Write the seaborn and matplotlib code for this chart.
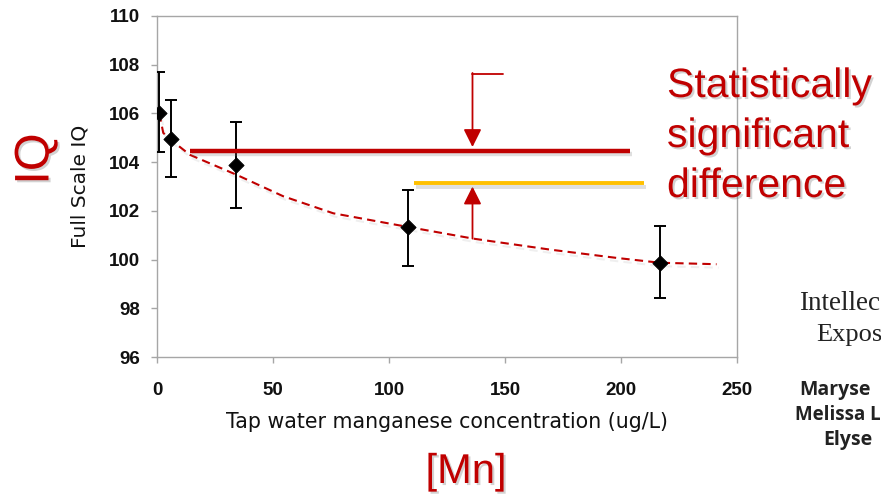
import matplotlib
matplotlib.use("Agg")
import matplotlib.pyplot as plt
import matplotlib.patheffects as pe
import seaborn as sns
import numpy as np
import pandas as pd

# Group means with error bars
mn_conc = [1, 6, 34, 108, 217]
iq_mean = [106.0, 104.95, 103.9, 101.32, 99.87]
err_low = [104.4, 103.4, 102.13, 99.75, 98.44]
err_high = [107.7, 106.55, 105.65, 102.87, 101.37]

# Dashed trend curve points
curve_x = [1.0, 2.7, 5.9, 14.2, 34.3, 54.4, 76.0, 104.7, 136.3, 169.4, 198.0, 216.8, 241.2]
curve_y = [106.0, 105.2, 104.92, 104.3, 103.48, 102.6, 101.9, 101.4, 100.86, 100.41, 100.07, 99.87, 99.81]

x_ticks = [0, 50, 100, 150, 200, 250]
y_ticks = [96, 98, 100, 102, 104, 106, 108, 110]

RED = "#C00000"
YELLOW = "#FFC000"
GRID = "#A6A6A6"

sns.set_theme(style="white")
plt.rcParams["font.family"] = ["Liberation Sans", "DejaVu Sans"]

fig = plt.figure(figsize=(8.81, 4.98), dpi=100)
ax = fig.add_axes([0.1782, 0.2831, 0.8365 - 0.1782, 0.9679 - 0.2831])

shadow_line = [pe.SimpleLineShadow(offset=(1.5, -2.5), shadow_color="gray", alpha=0.25), pe.Normal()]
shadow_soft = [pe.SimpleLineShadow(offset=(1.5, -2.5), shadow_color="gray", alpha=0.12), pe.Normal()]
shadow_text = [pe.withSimplePatchShadow(offset=(1.5, -1.5), shadow_rgbFace="gray", alpha=0.35)]

df_curve = pd.DataFrame({"x": curve_x, "y": curve_y})
sns.lineplot(data=df_curve, x="x", y="y", ax=ax, color=RED, lw=1.5,
             linestyle=(0, (4, 2.5)), path_effects=shadow_soft, zorder=2)

df = pd.DataFrame({"mn": mn_conc, "iq": iq_mean, "lo": err_low, "hi": err_high})
yerr = np.array([df["iq"] - df["lo"], df["hi"] - df["iq"]])
ax.errorbar(df["mn"], df["iq"], yerr=yerr, fmt="none", ecolor="black",
            elinewidth=1.4, capsize=4, capthick=1.4, zorder=3)
sns.scatterplot(data=df, x="mn", y="iq", ax=ax, marker="D", s=60,
                color="black", edgecolor="black", zorder=4)

# significance annotation
ax.plot([14.2, 204], [104.47, 104.47], color=RED, lw=3.2,
        solid_capstyle="butt", path_effects=shadow_line, zorder=5)
ax.plot([110.8, 210], [103.13, 103.13], color=YELLOW, lw=2.8,
        solid_capstyle="butt", path_effects=shadow_line, zorder=5)
ax.plot([136, 149], [107.62, 107.62], color=RED, lw=1.3, zorder=5)
ax.annotate("", xy=(136, 104.62), xytext=(136, 107.66),
            arrowprops=dict(arrowstyle="-|>,head_length=0.9,head_width=0.45",
                            color=RED, lw=1.3, shrinkA=0, shrinkB=0))
ax.annotate("", xy=(136, 103.0), xytext=(136, 100.86),
            arrowprops=dict(arrowstyle="-|>,head_length=0.9,head_width=0.45",
                            color=RED, lw=1.3, shrinkA=0, shrinkB=0))

ax.set_xlim(0, 250)
ax.set_ylim(96, 110)
ax.set_xticks(x_ticks)
ax.set_yticks(y_ticks)
for s in ax.spines.values():
    s.set_color(GRID)
    s.set_linewidth(1.0)
ax.tick_params(axis="both", direction="out", length=4, width=1.0, color=GRID,
               labelsize=13.5, labelcolor="#111111")
ax.tick_params(axis="x", pad=14, bottom=True)
ax.tick_params(axis="y", pad=8, left=True)
for lab in ax.get_xticklabels() + ax.get_yticklabels():
    lab.set_fontweight("bold")

ax.set_xlabel("Tap water manganese concentration (ug/L)", fontsize=14.8, labelpad=9,
              color="#111111", family="DejaVu Sans")
ax.set_ylabel("Full Scale IQ", fontsize=14.5, labelpad=14, color="#111111",
              family="DejaVu Sans")

# slide overlay text
fig.text(667, 498 - 97, "Statistically", transform=None, fontsize=29.5, color=RED,
         path_effects=shadow_text, va="baseline", ha="left")
fig.text(667, 498 - 147, "significant", transform=None, fontsize=29.5, color=RED,
         path_effects=shadow_text, va="baseline", ha="left")
fig.text(667, 498 - 197, "difference", transform=None, fontsize=29.5, color=RED,
         path_effects=shadow_text, va="baseline", ha="left")
fig.text(36, 498 - 159, "IQ", transform=None, fontsize=35, color=RED, rotation=90,
         path_effects=shadow_text, va="center", ha="center")
fig.text(466, 498 - 472, "[Mn]", transform=None, fontsize=30, color=RED,
         path_effects=shadow_text, va="center", ha="center")

# partly visible slide text on the right (only the visible part)
fig.text(799, 498 - 310, "Intellec", transform=None, fontsize=19.5,
         family="Liberation Serif", color="#222222")
fig.text(816, 498 - 341, "Expos", transform=None, fontsize=19,
         family="Liberation Serif", color="#222222")
fig.text(799, 498 - 395, "Maryse", transform=None, fontsize=14,
         family="Open Sans", fontweight="bold", color="#222222")
fig.text(795, 498 - 420, "Melissa L", transform=None, fontsize=13.5,
         family="Open Sans", fontweight="bold", color="#222222")
fig.text(823, 498 - 445, "Elyse", transform=None, fontsize=14,
         family="Open Sans", fontweight="bold", color="#222222")

fig.savefig("out.png", dpi=100)
